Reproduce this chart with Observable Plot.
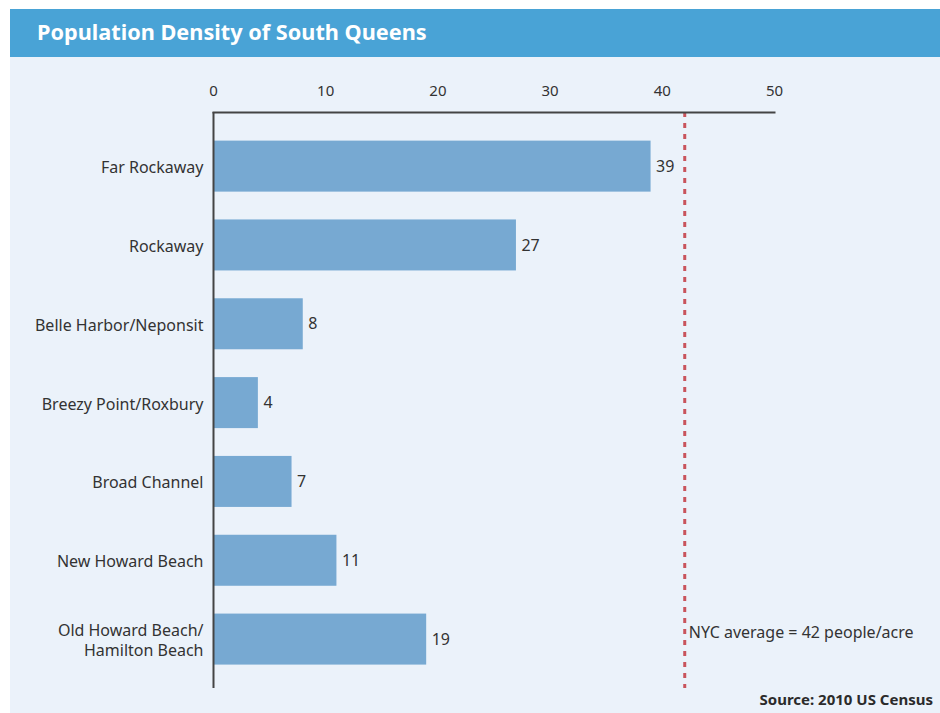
<!DOCTYPE html>
<html>
<head>
<meta charset="utf-8">
<script src="https://cdn.jsdelivr.net/npm/d3@7"></script>
<script src="https://cdn.jsdelivr.net/npm/@observablehq/plot@0.6"></script>
<style>
  body { margin: 0; background: #ffffff; font-family: "Noto Sans", sans-serif; }
  #wrap { position: absolute; left: 10px; top: 9px; width: 930px; height: 704px; background: #ebf2fa; }
  #title { height: 48px; line-height: 46px; background: #49a3d6; color: #ffffff; font-weight: bold; font-size: 21.7px; padding-left: 27px; box-sizing: border-box; }
  #source { position: absolute; right: 7px; top: 680px; font-weight: bold; font-size: 15px; color: #2b2b2b; }
  svg { display: block; }
</style>
</head>
<body>
<div id="wrap">
  <div id="title">Population Density of South Queens</div>
  <div id="chart"></div>
  <div id="source">Source: 2010 US Census</div>
</div>
<script>
const neighborhoods = [
  "Far Rockaway",
  "Rockaway",
  "Belle Harbor/Neponsit",
  "Breezy Point/Roxbury",
  "Broad Channel",
  "New Howard Beach",
  "Old Howard Beach/\nHamilton Beach"
];
const density = [39, 27, 8, 4, 7, 11, 19];
const xTicks = [0, 10, 20, 30, 40, 50];
const nycAverage = 42;
const nycLabel = "NYC average = 42 people/acre";

const data = neighborhoods.map((n, i) => ({name: n, value: density[i]}));
const avgData = [{x: nycAverage, y: neighborhoods[6], label: nycLabel}];

const chart = Plot.plot({
  width: 930,
  height: 656,
  marginLeft: 203,
  marginRight: 166,
  marginTop: 55,
  marginBottom: 25,
  style: {fontFamily: "Noto Sans", fontSize: "16px", color: "#333333", background: "#ebf2fa"},
  x: {domain: [0, 50]},
  y: {domain: neighborhoods, paddingInner: 0.353, paddingOuter: 0.33, align: 0.55, round: false},
  marks: [
    Plot.barX(data, {x: "value", y: "name", fill: "#77a9d2"}),
    Plot.text(data, {x: "value", y: "name", text: d => String(d.value), textAnchor: "start", dx: 5, fill: "#333333", fontSize: 16}),
    Plot.ruleX([nycAverage], {stroke: "#c9545c", strokeWidth: 3, strokeDasharray: "5,6"}),
    Plot.text(avgData, {x: "x", y: "y", text: "label", textAnchor: "start", dx: 4, dy: -7, fill: "#333333", fontSize: 16}),
    Plot.axisX({anchor: "top", ticks: xTicks, tickSize: 0, tickPadding: 17, fontSize: 15, label: null, fill: "#333333"}),
    Plot.axisY({tickSize: 0, tickPadding: 10, fontSize: 16, label: null, fill: "#333333", lineHeight: 1.25}),
    Plot.frame({anchor: "top", stroke: "#444444", strokeWidth: 2}),
    Plot.ruleX([0], {stroke: "#444444", strokeWidth: 2})
  ]
});
document.getElementById("chart").appendChild(chart);
</script>
</body>
</html>
